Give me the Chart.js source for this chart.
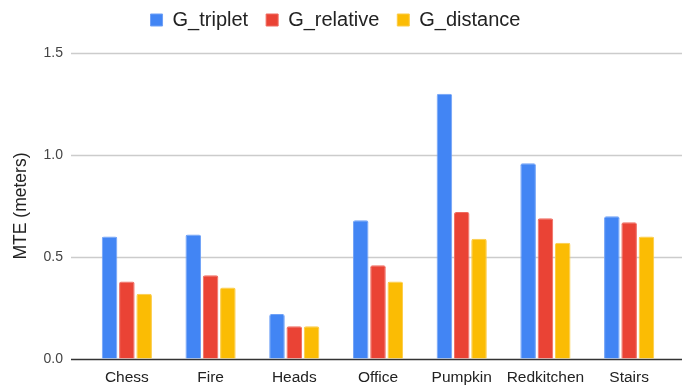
<!DOCTYPE html>
<html>
<head>
<meta charset="utf-8">
<script src="https://cdn.jsdelivr.net/npm/chart.js@4.4.1/dist/chart.umd.min.js"></script>
<style>
  html, body { margin: 0; padding: 0; background: #fff; overflow: hidden; }
  canvas { display: block; }
</style>
</head>
<body>
<canvas id="c" width="682" height="386" style="width:682px;height:386px"></canvas>
<script>
// Scenes and mean translation error (meters) per method
const scenes = ['Chess', 'Fire', 'Heads', 'Office', 'Pumpkin', 'Redkitchen', 'Stairs'];
const gTriplet  = [0.60, 0.61, 0.22, 0.68, 1.30, 0.96, 0.70];
const gRelative = [0.38, 0.41, 0.16, 0.46, 0.72, 0.69, 0.67];
const gDistance = [0.32, 0.35, 0.16, 0.38, 0.59, 0.57, 0.60];
const yTicks = [0, 0.5, 1.0, 1.5];

const FONT = "Arial, 'Liberation Sans', sans-serif";

// Full-width horizontal gridlines and a dark zero baseline
const fullGrid = {
  id: 'fullGrid',
  beforeDatasetsDraw(chart) {
    const { ctx, scales: { y }, width } = chart;
    ctx.save();
    yTicks.forEach(v => {
      const py = Math.round(y.getPixelForValue(v)) + 0.5;
      ctx.beginPath();
      ctx.moveTo(71, py);
      ctx.lineTo(width, py);
      ctx.lineWidth = v === 0 ? 1.6 : 1.4;
      ctx.strokeStyle = v === 0 ? '#333333' : '#cccccc';
      ctx.stroke();
    });
    ctx.restore();
  }
};

// Extra space under the legend row
const legendGap = {
  id: 'legendGap',
  afterInit(chart) {
    const lg = chart.legend;
    if (!lg) return;
    const fit = lg.fit.bind(lg);
    lg.fit = function () { fit(); this.height += 13; };
  }
};

new Chart(document.getElementById('c'), {
  type: 'bar',
  data: {
    labels: scenes,
    datasets: [
      { label: 'G_triplet',  data: gTriplet,  backgroundColor: '#4285F4', borderColor: '#6fa1f7' },
      { label: 'G_relative', data: gRelative, backgroundColor: '#EA4335', borderColor: '#ef6b60' },
      { label: 'G_distance', data: gDistance, backgroundColor: '#FBBC04', borderColor: '#fccb45' }
    ]
  },
  options: {
    responsive: false,
    maintainAspectRatio: false,
    animation: false,
    devicePixelRatio: 1,
    datasets: {
      bar: { categoryPercentage: 0.62, barPercentage: 0.9, borderWidth: 1, borderRadius: 2, borderSkipped: 'bottom' }
    },
    layout: { padding: { left: 0, right: 11, top: -8, bottom: 0 } },
    plugins: {
      legend: {
        position: 'top',
        align: 'center',
        labels: {
          boxWidth: 12, boxHeight: 12, padding: 18,
          color: '#222222',
          font: { family: FONT, size: 20 }
        }
      },
      tooltip: { enabled: false }
    },
    scales: {
      x: {
        afterFit(scale) { scale.height = 27; },
        grid: { display: false, drawTicks: false },
        border: { display: false },
        ticks: { color: '#222222', padding: 9, font: { family: FONT, size: 15.5 } }
      },
      y: {
        min: 0, max: 1.5,
        afterFit(scale) { scale.width = 85; },
        afterBuildTicks(scale) { scale.ticks = yTicks.map(v => ({ value: v })); },
        grid: { display: true, color: 'rgba(0,0,0,0)', drawTicks: true, tickLength: 14 },
        border: { display: false },
        ticks: {
          color: '#444444', padding: 8,
          font: { family: FONT, size: 14 },
          callback: v => Number(v).toFixed(1)
        },
        title: {
          display: true, text: 'MTE (meters)', color: '#222222',
          font: { family: FONT, size: 17.5 },
          padding: { top: 11, bottom: 0 }
        }
      }
    }
  },
  plugins: [fullGrid, legendGap]
});
</script>
</body>
</html>
